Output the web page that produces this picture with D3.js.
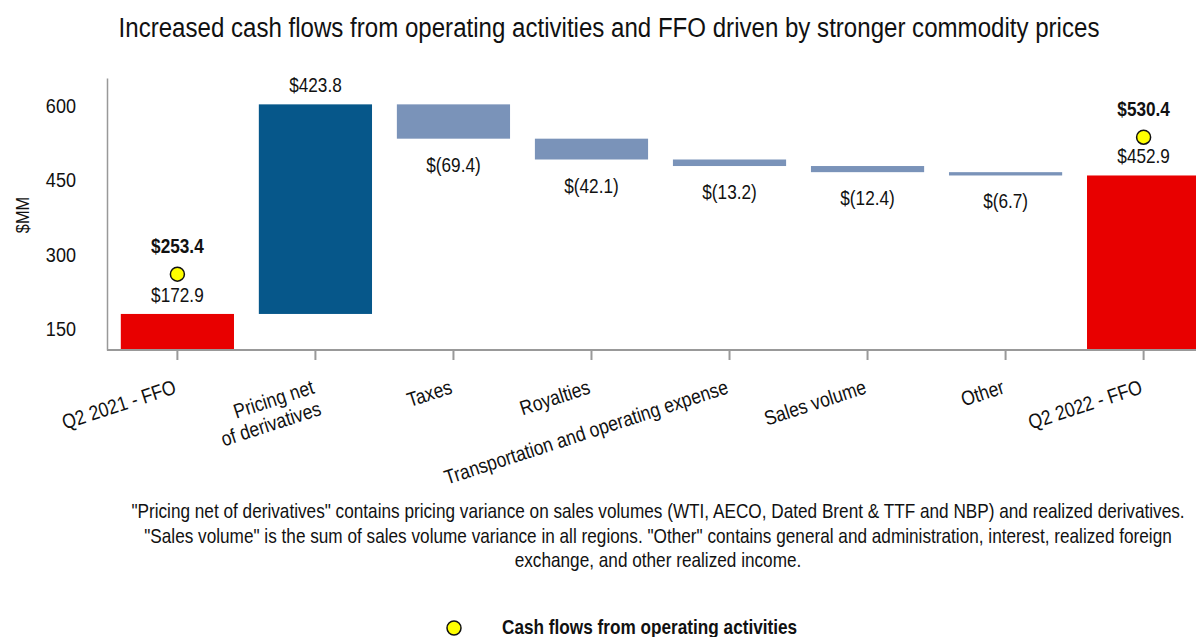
<!DOCTYPE html>
<html>
<head>
<meta charset="utf-8">
<script src="https://cdn.jsdelivr.net/npm/d3@7"></script>
<style>
  body { margin: 0; background: #fff; }
  svg { display: block; }
</style>
</head>
<body>
<svg id="chart" width="1196" height="637"></svg>
<script>
// chart data
const categories = [
  'Q2 2021 - FFO',
  'Pricing net\nof derivatives',
  'Taxes',
  'Royalties',
  'Transportation and operating expense',
  'Sales volume',
  'Other',
  'Q2 2022 - FFO',
]
const changes = [172.9, 423.8, -69.4, -42.1, -13.2, -12.4, -6.7, 452.9]
const barKinds = ['total', 'up', 'down', 'down', 'down', 'down', 'down', 'total']
const cashFlows = [253.4, null, null, null, null, null, null, 530.4]
const yTicks = [150, 300, 450, 600]

const footnote = [
  '"Pricing net of derivatives" contains pricing variance on sales volumes (WTI, AECO, Dated Brent & TTF and NBP) and realized derivatives.',
  '"Sales volume" is the sum of sales volume variance in all regions. "Other" contains general and administration, interest, realized foreign',
  'exchange, and other realized income.',
]

const width = 1196
const height = 637
// no narrow font installed, so squeeze Liberation Sans horizontally
const font = '"Liberation Sans", Arial, sans-serif'
const narrow = 0.86
const colors = { total: '#e80000', up: '#06578a', down: '#7a93b9' }

// place a text at x,y (optionally rotated) with narrow glyphs
const at = (x, y, rot) =>
  `translate(${x},${y})` + (rot ? ` rotate(${rot})` : '') + ` scale(${narrow},1)`

// waterfall steps
let running = 0
const steps = categories.map((c, i) => {
  let start, end
  if (barKinds[i] === 'total') {
    start = null
    end = changes[i]
    running = changes[i]
  } else {
    start = running
    end = running + changes[i]
    running = end
  }
  return { key: c, i, kind: barKinds[i], value: changes[i], start, end, cash: cashFlows[i] }
})

const svg = d3.select('#chart')

const x = d3
  .scaleBand()
  .domain(steps.map((d) => d.key))
  .range([107, 1214])
  .paddingInner(0.18)
  .paddingOuter(0.1)

const y = d3.scaleLinear().domain([100, 650]).range([350, 78])
const cx = (d) => x(d.key) + x.bandwidth() / 2

// title
svg
  .append('text')
  .attr('transform', at(609, 37))
  .attr('text-anchor', 'middle')
  .attr('font-family', font)
  .attr('font-size', 28)
  .attr('fill', '#111')
  .text('Increased cash flows from operating activities and FFO driven by stronger commodity prices')

// bars
svg
  .append('g')
  .attr('id', 'bars')
  .selectAll('rect')
  .data(steps)
  .join('rect')
  .attr('x', (d) => x(d.key))
  .attr('width', x.bandwidth())
  .attr('y', (d) => (d.kind === 'total' ? y(d.end) : y(Math.max(d.start, d.end))))
  .attr('height', (d) =>
    d.kind === 'total'
      ? y.range()[0] - y(d.end)
      : Math.abs(y(d.start) - y(d.end))
  )
  .attr('fill', (d) => colors[d.kind])

// y axis
const yAxis = svg
  .append('g')
  .attr('id', 'yAxis')
  .attr('transform', 'translate(107,0)')
  .call(d3.axisLeft(y).tickValues(yTicks).tickSize(0))
yAxis.select('.domain').attr('stroke', '#999').attr('stroke-width', 1.5)
yAxis
  .selectAll('.tick text')
  .attr('x', 0)
  .attr('transform', at(-31, 0))
  .attr('font-family', font)
  .attr('font-size', 21)
  .attr('fill', '#111')
  .attr('dy', '0.48em')

svg
  .append('text')
  .attr('transform', at(29, 215, -90))
  .attr('text-anchor', 'middle')
  .attr('font-family', font)
  .attr('font-size', 19)
  .attr('fill', '#111')
  .text('$MM')

// x axis
const xAxis = svg
  .append('g')
  .attr('id', 'xAxis')
  .attr('transform', 'translate(0,350)')
  .call(d3.axisBottom(x).tickSize(10).tickSizeOuter(0).tickFormat(''))
xAxis
  .select('.domain')
  .attr('d', 'M107,0H1196')
  .attr('stroke', '#999')
  .attr('stroke-width', 2)
xAxis.selectAll('.tick line').attr('stroke', '#999').attr('stroke-width', 2)

// rotated category labels, right end at the tick
const catLabels = svg
  .append('g')
  .attr('id', 'categoryLabels')
  .selectAll('text')
  .data(steps)
  .join('text')
  .attr('transform', (d) => at(cx(d), 393, -18))
  .attr('text-anchor', 'end')
  .attr('font-family', font)
  .attr('font-size', 20.5)
  .attr('fill', '#111')
catLabels
  .selectAll('tspan')
  .data((d) => d.key.split('\n'))
  .join('tspan')
  .attr('x', 0)
  .attr('dy', (d, i) => (i === 0 ? 0 : '1.1em'))
  .text((d) => d)

// value labels
const money = (v) => (v < 0 ? `$(${Math.abs(v).toFixed(1)})` : `$${v.toFixed(1)}`)
svg
  .append('g')
  .attr('id', 'valueLabels')
  .selectAll('text')
  .data(steps)
  .join('text')
  .attr('transform', (d) => at(cx(d), d.kind === 'down' ? y(d.end) + 33 : y(d.end) - 12))
  .attr('text-anchor', 'middle')
  .attr('font-family', font)
  .attr('font-size', 20)
  .attr('fill', '#111')
  .text((d) => money(d.value))

// cash flows from operating activities markers
const cashSteps = steps.filter((d) => d.cash != null)
svg
  .append('g')
  .attr('id', 'cashPoints')
  .selectAll('circle')
  .data(cashSteps)
  .join('circle')
  .attr('cx', cx)
  .attr('cy', (d) => y(d.cash))
  .attr('r', 7)
  .attr('fill', '#ffff00')
  .attr('stroke', '#111')
  .attr('stroke-width', 1.5)

svg
  .append('g')
  .attr('id', 'cashLabels')
  .selectAll('text')
  .data(cashSteps)
  .join('text')
  .attr('transform', (d) => at(cx(d), y(d.cash) - 21))
  .attr('text-anchor', 'middle')
  .attr('font-family', font)
  .attr('font-size', 20)
  .attr('font-weight', 'bold')
  .attr('fill', '#111')
  .text((d) => money(d.cash))

// footnote
svg
  .append('g')
  .attr('id', 'footnote')
  .selectAll('text')
  .data(footnote)
  .join('text')
  .attr('transform', (d, i) => at(658, 518 + i * 24.5))
  .attr('text-anchor', 'middle')
  .attr('font-family', font)
  .attr('font-size', 20)
  .attr('fill', '#111')
  .text((d) => d)

// legend
const legendLayer = svg.append('g').attr('id', 'legend')
legendLayer
  .append('circle')
  .attr('cx', 454)
  .attr('cy', 628)
  .attr('r', 7)
  .attr('fill', '#ffff00')
  .attr('stroke', '#111')
  .attr('stroke-width', 1.5)
legendLayer
  .append('text')
  .attr('transform', at(502, 634))
  .attr('font-family', font)
  .attr('font-size', 20)
  .attr('font-weight', 'bold')
  .attr('fill', '#111')
  .text('Cash flows from operating activities')
</script>
</body>
</html>
